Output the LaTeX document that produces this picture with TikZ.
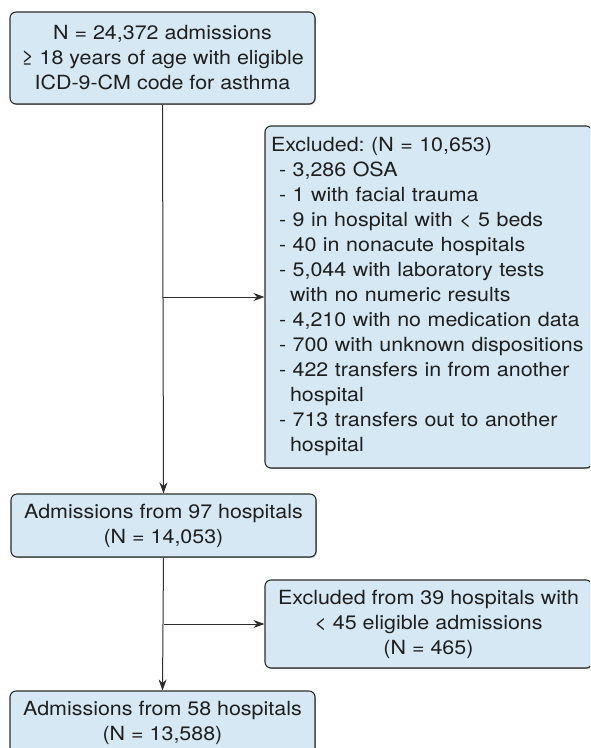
\documentclass[tikz,border=0pt]{standalone}
\usepackage{fontspec}
\setmainfont{TeX Gyre Heros}[FakeStretch=1.1]
\usetikzlibrary{arrows.meta,shadows}
\frenchspacing
\definecolor{boxblue}{RGB}{214,232,243}
\definecolor{boxline}{RGB}{45,45,45}
\tikzset{
  box/.style={draw=boxline, line width=1.1pt, fill=boxblue, rounded corners=6pt,
    drop shadow={shadow xshift=0.8pt, shadow yshift=-0.8pt, fill=black!45, opacity=0.8},
    inner sep=6pt, font=\fontsize{19.5}{25}\selectfont, text=black!88},
  flow/.style={draw=boxline, line width=1pt, -{Stealth[length=11pt,width=8pt]}}
}
\begin{document}
\begin{tikzpicture}[x=1pt,y=-1pt]
    \useasboundingbox (0,0) rectangle (590,748);
    \clip (0,0) rectangle (590,748);
    \node [box, minimum width=305pt, minimum height=92pt, align=center] (all) at (162.5,58)
      {N = 24,372 admissions\\≥ 18 years of age with eligible\\ICD-9-CM code for asthma};
    \node [box, minimum width=327pt, minimum height=342pt, text width=315pt, align=left] (excl1) at (428.5,297)
      {Excluded: (N = 10,653)\\
       \hspace*{8pt}- 3,286 OSA\\
       \hspace*{8pt}- 1 with facial trauma\\
       \hspace*{8pt}- 9 in hospital with < 5 beds\\
       \hspace*{8pt}- 40 in nonacute hospitals\\
       \hspace*{8pt}- 5,044 with laboratory tests\\
       \hspace*{19pt}with no numeric results\\
       \hspace*{8pt}- 4,210 with no medication data\\
       \hspace*{8pt}- 700 with unknown dispositions\\
       \hspace*{8pt}- 422 transfers in from another\\
       \hspace*{19pt}hospital\\
       \hspace*{8pt}- 713 transfers out to another\\
       \hspace*{19pt}hospital};
    \node [box, minimum width=305pt, minimum height=63pt, align=center] (adm97) at (163.5,525.5)
      {Admissions from 97 hospitals\\(N = 14,053)};
    \node [box, minimum width=327pt, minimum height=88pt, align=center] (excl2) at (428.5,624)
      {Excluded from 39 hospitals with\\< 45 eligible admissions\\(N = 465)};
    \node [box, minimum width=305pt, minimum height=63pt, align=center] (adm58) at (162.5,722.5)
      {Admissions from 58 hospitals\\(N = 13,588)};
    \draw [flow] (all.south) -- (adm97.north);
    \draw [flow] (all.south |- excl1.west) -- (excl1.west);
    \draw [flow] (adm97.south) -- (adm58.north);
    \draw [flow] (adm97.south |- excl2.west) -- (excl2.west);
\end{tikzpicture}
\end{document}
